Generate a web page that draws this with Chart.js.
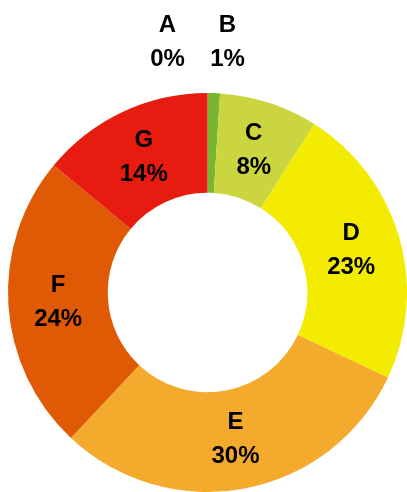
<!DOCTYPE html>
<html>
<head>
<meta charset="utf-8">
<script src="https://cdn.jsdelivr.net/npm/chart.js@4"></script>
<style>
  html, body { margin: 0; padding: 0; background: #fff; }
  #wrap { width: 407px; height: 492px; }
</style>
</head>
<body>
<div id="wrap"><canvas id="shareChart"></canvas></div>
<script>
// ============================================
// SHARE BY CATEGORY (DOUGHNUT)
// ============================================

const categories = ["A", "B", "C", "D", "E", "F", "G"];
const shares = [0, 1, 8, 23, 30, 24, 14];
const sliceColors = ["#E8321A", "#79B52E", "#CBD53F", "#F4EC00", "#F3AA2D", "#E05A06", "#E81B10"];

const LABEL_FONT = "bold 24px 'Liberation Sans', Arial, sans-serif";

// slices too thin to hold text get their labels above the ring
const sliceLabels = {
    id: "sliceLabels",
    afterDatasetsDraw(chart) {
        const ctx = chart.ctx;
        const meta = chart.getDatasetMeta(0);
        ctx.save();
        ctx.font = LABEL_FONT;
        ctx.fillStyle = "#000";
        ctx.textAlign = "center";
        ctx.textBaseline = "middle";
        let outside = 0;
        meta.data.forEach(function (arc, i) {
            const p = arc.getProps(["x", "y", "startAngle", "endAngle", "innerRadius", "outerRadius"], true);
            const pct = shares[i] + "%";
            let x, y;
            if (shares[i] < 3) {
                x = p.x + (outside === 0 ? -40 : 20);
                y = p.y - p.outerRadius - 51;
                outside++;
            } else {
                const mid = (p.startAngle + p.endAngle) / 2;
                const r = (p.innerRadius + p.outerRadius) / 2;
                x = p.x + Math.cos(mid) * r;
                y = p.y + Math.sin(mid) * r;
            }
            ctx.fillText(categories[i], x, y - 17);
            ctx.fillText(pct, x, y + 17);
        });
        ctx.restore();
    }
};

const shareChart = new Chart(
    document.getElementById("shareChart"),
    {
        type: "doughnut",

        data: {
            labels: categories,
            datasets: [{
                data: shares,
                backgroundColor: sliceColors,
                borderWidth: 0
            }]
        },

        options: {
            responsive: true,
            maintainAspectRatio: false,
            animation: false,
            cutout: "50%",
            layout: {
                padding: { top: 93, left: 8, right: 0, bottom: 0 }
            },
            plugins: {
                legend: { display: false },
                tooltip: { enabled: false }
            }
        },

        plugins: [sliceLabels]
    }
);
</script>
</body>
</html>
